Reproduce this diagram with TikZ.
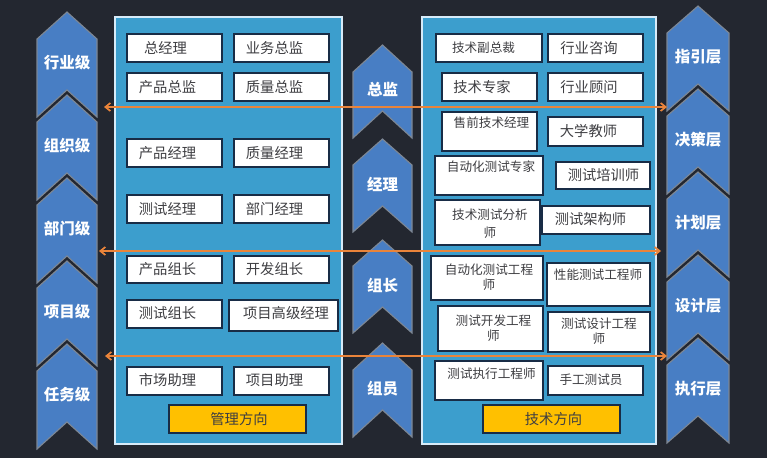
\documentclass[tikz,border=0pt]{standalone}
\usepackage{fontspec}
\setmainfont{Noto Sans CJK SC}
\usetikzlibrary{arrows.meta,fit}
\definecolor{bgc}{RGB}{35,39,48}
\definecolor{chevfill}{RGB}{72,126,196}
\definecolor{chevline}{RGB}{125,135,148}
\definecolor{panelfill}{RGB}{60,158,205}
\definecolor{panelline}{RGB}{215,235,248}
\definecolor{boxline}{RGB}{24,44,70}
\definecolor{txtc}{RGB}{62,62,66}
\definecolor{arrowc}{RGB}{234,132,58}
\definecolor{btnfill}{RGB}{255,192,0}
\tikzset{
  chev/.style={fill=chevfill, draw=chevline, line width=1.1pt, line join=miter},
  chevlab/.style={text=white, font=\fontsize{15.5}{17}\selectfont\bfseries, inner sep=0pt},
  panel/.style={fill=panelfill, draw=panelline, line width=1.5pt},
  wbox/.style={fill=white, draw=boxline, line width=1.4pt, inner sep=0pt},
  btn/.style={fill=btnfill, draw=boxline, line width=1.4pt, inner sep=0pt},
  big/.style={text=txtc, inner sep=0pt, font=\fontsize{14.3}{16}\selectfont},
  small/.style={text=txtc, inner sep=0pt, align=center, font=\fontsize{12.6}{14.5}\selectfont},
  lvl/.style={draw=arrowc, line width=1.7pt, {Straight Barb[length=5pt,width=8pt]}-{Straight Barb[length=5pt,width=8pt]}}
}
% #1 name, #2 cx, #3 apex y, #4 half width, #5 point depth, #6 side height, #7 label
\newcommand\mychev[7]{%
  \draw[chev] ({#2},{#3}) -- ++({#4},{#5}) -- ++(0,{#6}) -- ++({-#4},{-#5}) -- ++({-#4},{#5}) -- ++(0,{-#6}) -- cycle;
  \node[chevlab] (#1) at ({#2},{#3+(#5+#6)/2-1.5}) {#7};}
% #1 name, #2 x1, #3 y1, #4 x2, #5 y2, #6 tx, #7 ty, #8 style, #9 text
\newcommand\mybox[9]{%
  \node[wbox, fit={(#2,#3) (#4,#5)}] (#1) {};
  \node[#8] (#1t) at (#6,#7) {#9};}
\begin{document}
\begin{tikzpicture}[x=1pt,y=-1pt]
\fill[bgc] (0,0) rectangle (767,458);
\useasboundingbox (0,0) rectangle (767,458);
% panels
\node[panel, fit={(115,17) (342,444)}, inner sep=0pt] (lp) {};
\node[panel, fit={(422,17) (656,444)}, inner sep=0pt] (rp) {};
% left panel boxes
\mybox{b1}{127}{34}{222}{62}{165.5}{48}{big}{总经理}
\mybox{b2}{234}{34}{329}{62}{274.5}{48}{big}{业务总监}
\mybox{b3}{127}{73}{222}{101}{167.5}{87}{big}{产品总监}
\mybox{b4}{234}{73}{329}{101}{274.5}{87}{big}{质量总监}
\mybox{b5}{127}{139}{222}{167}{167.5}{153}{big}{产品经理}
\mybox{b6}{234}{139}{329}{167}{274.5}{153}{big}{质量经理}
\mybox{b7}{127}{195}{222}{223}{167.5}{209}{big}{测试经理}
\mybox{b8}{234}{195}{329}{223}{274.5}{209}{big}{部门经理}
\mybox{b9}{127}{256}{222}{283}{167.5}{269}{big}{产品组长}
\mybox{b10}{234}{256}{329}{283}{274.5}{269}{big}{开发组长}
\mybox{b11}{127}{300}{222}{328}{167.5}{313}{big}{测试组长}
\mybox{b12}{229}{300}{338}{331}{286}{313}{big}{项目高级经理}
\mybox{b13}{127}{367}{222}{395}{167.5}{380}{big}{市场助理}
\mybox{b14}{234}{367}{329}{395}{274.5}{380}{big}{项目助理}
\node[btn, fit={(169,405) (306,433)}] (mgmt) {};
\node[big] (mgmtt) at (239,419) {管理方向};
% right panel boxes
\mybox{r1}{436}{34}{542}{62}{483.5}{48}{small}{技术副总裁}
\mybox{r2}{548}{34}{643}{62}{589}{48}{big}{行业咨询}
\mybox{r3}{442}{73}{537}{101}{482}{87}{big}{技术专家}
\mybox{r4}{548}{73}{643}{101}{589}{87}{big}{行业顾问}
\mybox{r5}{442}{112}{537}{151}{491.5}{123}{small}{售前技术经理}
\mybox{r6}{548}{117}{643}{146}{588.5}{131}{big}{大学教师}
\mybox{r7}{435}{156}{543}{195}{491}{167}{small}{自动化测试专家}
\mybox{r8}{556}{162}{650}{189}{603.5}{175}{big}{测试培训师}
\mybox{r9}{435}{200}{540}{245}{490}{224}{small,font=\fontsize{12.6}{18}\selectfont}{技术测试分析\\师}
\mybox{r10}{542}{206}{650}{234}{590.5}{219}{big}{测试架构师}
\mybox{r11}{431}{256}{543}{300}{489}{277}{small}{自动化测试工程\\师}
\mybox{r12}{547}{263}{650}{306}{598}{275}{small}{性能测试工程师}
\mybox{r13}{438}{306}{543}{351}{493.5}{328}{small}{测试开发工程\\师}
\mybox{r14}{548}{312}{650}{352}{599}{331}{small}{测试设计工程\\师}
\mybox{r15}{435}{361}{543}{400}{491.5}{374}{small}{测试执行工程师}
\mybox{r16}{548}{366}{643}{395}{591}{380}{small}{手工测试员}
\node[btn, fit={(483,405) (620,433)}] (tech) {};
\node[big] (techt) at (553.5,419) {技术方向};
% left chevrons
\mychev{L1}{67}{12}{30}{27}{78}{行业级}
\mychev{L2}{67}{95}{30}{27}{78}{组织级}
\mychev{L3}{67}{178}{30}{27}{78}{部门级}
\mychev{L4}{67}{261}{30}{27}{78}{项目级}
\mychev{L5}{67}{344}{30}{27}{78}{任务级}
% middle chevrons
\mychev{M1}{382.5}{45}{29.5}{27}{66}{总监}
\mychev{M2}{382.5}{139}{29.5}{26}{67}{经理}
\mychev{M3}{382.5}{240}{29.5}{26}{67}{组长}
\mychev{M4}{382.5}{343}{29.5}{27}{67}{组员}
% right chevrons
\mychev{R1}{698}{6}{31}{27}{78}{指引层}
\mychev{R2}{698}{89}{31}{27}{78}{决策层}
\mychev{R3}{698}{172}{31}{27}{78}{计划层}
\mychev{R4}{698}{255}{31}{27}{78}{设计层}
\mychev{R5}{698}{338}{31}{27}{78}{执行层}
% level arrows
\coordinate (a1l) at (104,107);
\coordinate (a1r) at (667,107);
\coordinate (a2l) at (99,251);
\coordinate (a2r) at (661,251);
\coordinate (a3l) at (105,356);
\coordinate (a3r) at (667,356);
\draw[lvl] (a1l) -- (a1r);
\draw[lvl] (a2l) -- (a2r);
\draw[lvl] (a3l) -- (a3r);
\end{tikzpicture}
\end{document}
